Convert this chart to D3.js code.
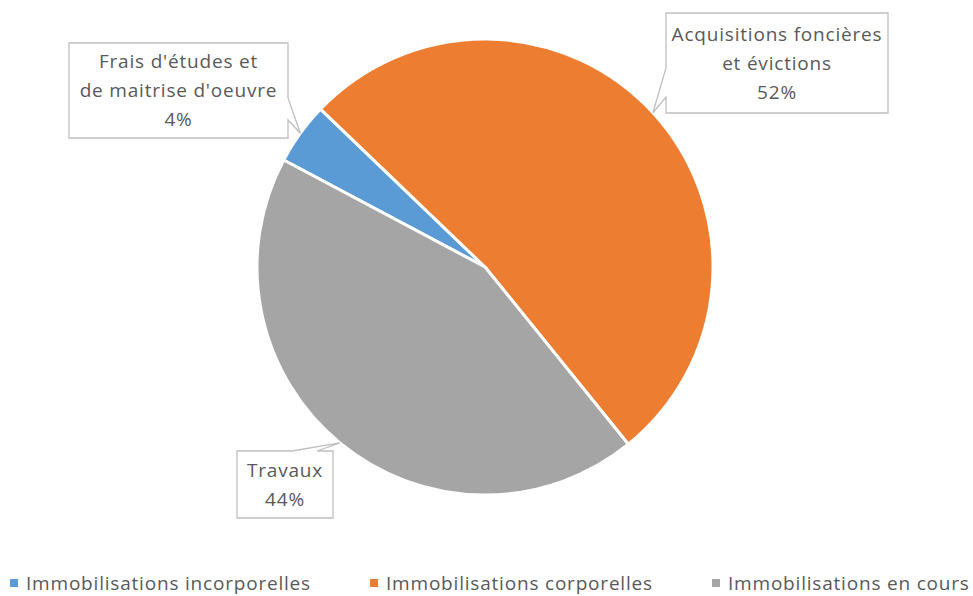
<!DOCTYPE html>
<html>
<head>
<meta charset="utf-8">
<script src="https://cdn.jsdelivr.net/npm/d3@7"></script>
<style>
  body { margin: 0; background: #fff; }
  text { font-family: "Open Sans", sans-serif; fill: #595959; letter-spacing: 0.8px; }
</style>
</head>
<body>
<svg id="chart" width="973" height="596"></svg>
<script>
// data
var categories = ["Immobilisations incorporelles", "Immobilisations corporelles", "Immobilisations en cours"]
var labels = [["Frais d'études et", "de maitrise d'oeuvre"], ["Acquisitions foncières", "et évictions"], ["Travaux"]]
var values = [4.4, 52.0, 43.6]
var colors = ["#5B9BD5", "#ED7D31", "#A5A5A5"]

var svg = d3.select("#chart")
var cx = 485, cy = 267, r = 228
var startDeg = 298

var pie = d3.pie().sort(null).value(function(d) { return d })
  .startAngle(startDeg * Math.PI / 180)
  .endAngle((startDeg + 360) * Math.PI / 180)
var arcs = pie(values)
var arc = d3.arc().innerRadius(0).outerRadius(r)

var g = svg.append("g").attr("transform", "translate(" + cx + "," + cy + ")")
g.selectAll("path")
  .data(arcs)
  .enter()
  .append("path")
  .attr("d", arc)
  .attr("fill", function(d, i) { return colors[i] })
  .attr("stroke", "#fff")
  .attr("stroke-width", 3)
  .attr("stroke-linejoin", "round")

// callout boxes (x, y, w, h) and which side the pointer leaves from
var boxes = [
  {x: 69, y: 43, w: 219, h: 95, side: "right", a: 98, b: 120},
  {x: 666, y: 13, w: 222, h: 100, side: "left", a: 68, b: 97},
  {x: 237, y: 451, w: 96, h: 67, side: "top", a: 292, b: 317}
]

arcs.forEach(function(d, i) {
  var mid = (d.startAngle + d.endAngle) / 2
  var tx = cx + r * Math.sin(mid), ty = cy - r * Math.cos(mid)
  var bx = boxes[i], x0 = bx.x, y0 = bx.y, x1 = bx.x + bx.w, y1 = bx.y + bx.h
  var p
  if (bx.side == "right") {
    p = [[x0, y0], [x1, y0], [x1, bx.a], [tx, ty], [x1, bx.b], [x1, y1], [x0, y1]]
  } else if (bx.side == "left") {
    p = [[x0, y0], [x1, y0], [x1, y1], [x0, y1], [x0, bx.b], [tx, ty], [x0, bx.a]]
  } else {
    p = [[x0, y0], [bx.a, y0], [tx, ty], [bx.b, y0], [x1, y0], [x1, y1], [x0, y1]]
  }
  svg.append("path")
    .attr("d", d3.line()(p) + "Z")
    .attr("fill", "#fff")
    .attr("stroke", "#bfbfbf")
    .attr("stroke-width", 1.3)

  var lines = labels[i].concat([Math.round(values[i]) + "%"])
  var lh = 29
  var top = y0 + bx.h / 2 - (lines.length - 1) * lh / 2
  var t = svg.append("text")
    .attr("text-anchor", "middle")
    .style("font-size", "19px")
  lines.forEach(function(s, k) {
    t.append("tspan")
      .attr("x", x0 + bx.w / 2)
      .attr("y", top + k * lh)
      .attr("dy", "0.35em")
      .text(s)
  })
})

// legend
var legX = [10, 370, 712]
var leg = svg.selectAll(".leg")
  .data(categories)
  .enter()
  .append("g")
  .attr("class", "leg")
  .attr("transform", function(d, i) { return "translate(" + legX[i] + ",583)" })
leg.append("rect")
  .attr("x", 0).attr("y", -4)
  .attr("width", 8).attr("height", 8)
  .attr("fill", function(d, i) { return colors[i] })
leg.append("text")
  .attr("x", 16)
  .attr("dy", "0.35em")
  .style("font-size", "19px")
  .text(function(d) { return d })
</script>
</body>
</html>
